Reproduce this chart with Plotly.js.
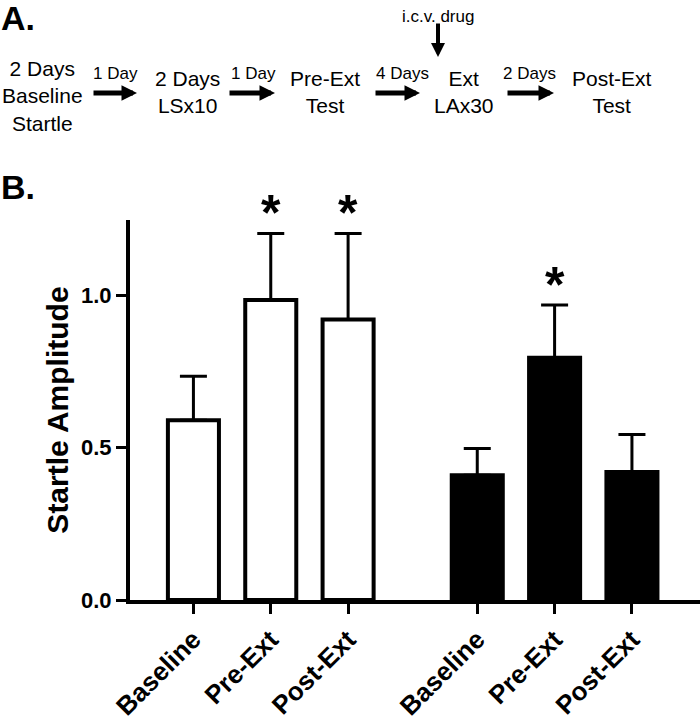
<!DOCTYPE html>
<html>
<head>
<meta charset="utf-8">
<script src="https://cdn.plot.ly/plotly-3.0.1.min.js"></script>
<style>html,body{margin:0;padding:0;background:#fff;}#chart{width:700px;height:720px;}</style>
</head>
<body>
<div id="chart"></div>
<script>
// ---- data ----
const categories = ['Baseline', 'Pre-Ext', 'Post-Ext'];
const openMeans = [0.589, 0.984, 0.920];
const openSem = [0.145, 0.218, 0.282];
const openSig = [false, true, true];
const filledMeans = [0.409, 0.794, 0.420];
const filledSem = [0.088, 0.173, 0.123];
const filledSig = [false, true, false];

// timeline (panel A) text
const stageLabels = ['2 Days<br>Baseline<br>Startle', '2 Days<br>LSx10', 'Pre-Ext<br>Test', 'Ext<br>LAx30', 'Post-Ext<br>Test'];
const intervalLabels = ['1 Day', '1 Day', '4 Days', '2 Days'];
const drugLabel = 'i.c.v. drug';

// ---- layout helpers ----
const W = 700, H = 720, ML = 130, MR = 0, MT = 220, MB = 120;
const PW = W - ML - MR, PH = H - MT - MB;
const px = x => (x - ML) / PW;
const py = y => (H - MB - y) / PH;
const FONT = '"Liberation Sans", Arial, Helvetica, sans-serif';

const groupGap = 3.67;
const xOpen = categories.map((c, i) => i);
const xFilled = categories.map((c, i) => i + groupGap);

const errStyle = (arr) => ({
  type: 'data', symmetric: false, array: arr, arrayminus: arr.map(() => 0),
  color: '#000', thickness: 3, width: 13.5, visible: true
});

const traces = [
  {
    type: 'bar', x: xOpen, y: openMeans, width: 0.66,
    marker: {color: '#ffffff', line: {color: '#000', width: 4}},
    error_y: errStyle(openSem), hoverinfo: 'skip', showlegend: false
  },
  {
    type: 'bar', x: xFilled, y: filledMeans, width: 0.66,
    marker: {color: '#000000', line: {color: '#000', width: 4}},
    error_y: errStyle(filledSem), hoverinfo: 'skip', showlegend: false
  }
];

const annotations = [];
// significance asterisks
function addStars(xs, means, sems, sig) {
  xs.forEach((x, i) => {
    if (!sig[i]) return;
    annotations.push({
      xref: 'x', yref: 'y', x: x, y: means[i] + sems[i],
      text: '*', showarrow: false, xanchor: 'center', yanchor: 'middle',
      yshift: 20, font: {family: FONT, size: 50, weight: 'bold', color: '#000'}
    });
  });
}
addStars(xOpen, openMeans, openSem, openSig);
addStars(xFilled, filledMeans, filledSem, filledSig);

// panel letters
annotations.push({xref: 'paper', yref: 'paper', x: px(18), y: py(18), text: 'A.', showarrow: false,
  xanchor: 'center', yanchor: 'middle', font: {family: FONT, size: 34, weight: 'bold', color: '#000'}});
annotations.push({xref: 'paper', yref: 'paper', x: px(18), y: py(187), text: 'B.', showarrow: false,
  xanchor: 'center', yanchor: 'middle', font: {family: FONT, size: 34, weight: 'bold', color: '#000'}});

// timeline stage labels
const stageX = [42, 187, 325, 464, 612];
const stageY = [96, 92, 92, 92, 92];
stageLabels.forEach((t, i) => {
  annotations.push({xref: 'paper', yref: 'paper', x: px(stageX[i]), y: py(stageY[i]), text: t,
    showarrow: false, xanchor: 'center', yanchor: 'middle', align: 'center',
    font: {family: FONT, size: 21, color: '#000'}});
});
// intervals with arrows
const arrowTail = [92, 228, 374, 506];
const arrowHead = [140, 278, 423, 557];
const intervalX = [115, 253, 402, 529];
intervalLabels.forEach((t, i) => {
  annotations.push({xref: 'paper', yref: 'paper', x: px(intervalX[i]), y: py(74), text: t,
    showarrow: false, xanchor: 'center', yanchor: 'middle',
    font: {family: FONT, size: 17, color: '#000'}});
  annotations.push({xref: 'paper', yref: 'paper', x: px(arrowHead[i] - 3), y: py(93), text: '',
    showarrow: true, ax: arrowTail[i] - arrowHead[i] + 3, ay: 0, arrowhead: 2, arrowsize: 0.62,
    arrowwidth: 5, arrowcolor: '#000', standoff: 0});
});
// drug arrow
annotations.push({xref: 'paper', yref: 'paper', x: px(438), y: py(16), text: drugLabel,
  showarrow: false, xanchor: 'center', yanchor: 'middle', font: {family: FONT, size: 17, color: '#000'}});
annotations.push({xref: 'paper', yref: 'paper', x: px(438), y: py(57), text: '',
  showarrow: true, ax: 0, ay: -35, arrowhead: 2, arrowsize: 0.7, arrowwidth: 4, arrowcolor: '#000', standoff: 0});

const layout = {
  width: W, height: H,
  margin: {l: ML, r: MR, t: MT, b: MB, pad: 0},
  paper_bgcolor: '#fff', plot_bgcolor: '#fff',
  barmode: 'overlay', showlegend: false,
  xaxis: {
    range: [-0.82, 6.55], showgrid: false, zeroline: false,
    showline: true, linewidth: 4, linecolor: '#000',
    ticks: 'outside', ticklen: 10, tickwidth: 3, tickcolor: '#000',
    tickvals: xOpen.concat(xFilled), ticktext: categories.concat(categories),
    tickangle: -45, tickfont: {family: FONT, size: 26, weight: 'bold', color: '#000'}
  },
  yaxis: {
    range: [0, 1.246], showgrid: false, zeroline: false,
    showline: true, linewidth: 4, linecolor: '#000',
    ticks: 'outside', ticklen: 10, tickwidth: 3, tickcolor: '#000',
    tickvals: [0, 0.5, 1.0], ticktext: ['0.0', '0.5', '1.0'],
    tickfont: {family: FONT, size: 22, weight: 'bold', color: '#000'},
    title: {text: 'Startle Amplitude', standoff: 5, font: {family: FONT, size: 30, weight: 'bold', color: '#000'}}
  },
  annotations: annotations
};

Plotly.newPlot('chart', traces, layout, {staticPlot: true, displayModeBar: false});
</script>
</body>
</html>
